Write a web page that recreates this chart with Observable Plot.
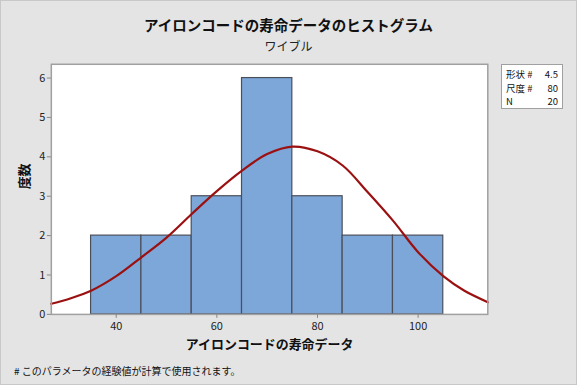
<!DOCTYPE html>
<html><head><meta charset="utf-8">
<script src="https://cdn.jsdelivr.net/npm/d3@7"></script>
<script src="https://cdn.jsdelivr.net/npm/@observablehq/plot@0.6"></script>
<style>
html,body{margin:0;padding:0;}
#wrap{position:relative;width:577px;height:385px;box-sizing:border-box;background:#e4e4e4;border:1px solid #c8c8c8;font-family:"Noto Sans CJK JP","Noto Sans",sans-serif;overflow:hidden;}
#wrap svg{position:absolute;left:-1px;top:-1px;}
.t{position:absolute;white-space:nowrap;color:#111;}
#legend{position:absolute;left:500px;top:63px;width:62px;height:45px;box-sizing:border-box;background:#fff;border:1px solid #a0a0a0;font-size:9.5px;color:#111;}
#legend .lab{position:absolute;left:4px;line-height:11px;height:11px;white-space:nowrap;}
#legend .val{position:absolute;right:4px;line-height:11px;height:11px;white-space:nowrap;}
</style></head>
<body><div id="wrap"></div>
<script>
const binEdges = [35, 45, 55, 65, 75, 85, 95, 105];
const counts = [2, 2, 3, 6, 3, 2, 2];
const curveX = [27.1, 31, 35, 40, 45, 50, 55, 60, 65, 70, 75, 80, 85, 90, 95, 100, 105, 109.2, 113.85];
const curveY = [0.27, 0.41, 0.60, 0.97, 1.45, 1.95, 2.55, 3.13, 3.65, 4.07, 4.26, 4.14, 3.78, 3.10, 2.38, 1.58, 0.97, 0.60, 0.31];
const xTicks = [40, 60, 80, 100];
const yTicks = [0, 1, 2, 3, 4, 5, 6];
const title = "アイロンコードの寿命データのヒストグラム";
const subtitle = "ワイブル";
const xLabel = "アイロンコードの寿命データ";
const yLabel = "度数";
const legendLabels = ["形状 #", "尺度 #", "N"];
const legendValues = ["4.5", "80", "20"];
const footer = "# このパラメータの経験値が計算で使用されます。";

const bins = counts.map((c, i) => ({x1: binEdges[i], x2: binEdges[i + 1], y: c}));
const curve = curveX.map((x, i) => ({x, y: curveY[i]}));

const chart = Plot.plot({
  width: 577, height: 385,
  marginLeft: 51, marginRight: 88, marginTop: 64, marginBottom: 70,
  style: {background: "transparent", fontFamily: "'Noto Sans CJK JP','Noto Sans',sans-serif", fontSize: "11px", color: "#222"},
  x: {domain: [27.1, 113.85]},
  y: {domain: [0, 6.35]},
  marks: [
    Plot.frame({fill: "#fff", stroke: "none"}),
    Plot.rectY(bins, {x1: "x1", x2: "x2", y: "y", fill: "#7da7d9", stroke: "#4a4f5a", strokeWidth: 1.2, inset: 0}),
    Plot.line(curve, {x: "x", y: "y", stroke: "#9b1111", strokeWidth: 2.2, curve: "catmull-rom"}),
    Plot.frame({stroke: "#a0a0a0", strokeWidth: 1.5}),
    Plot.axisX({ticks: xTicks, tickSize: 4, tickPadding: 4, stroke: "#888", label: null, fontSize: 11, tickFormat: "d"}),
    Plot.axisY({ticks: yTicks, tickSize: 4, tickPadding: 2, stroke: "#888", label: null, fontSize: 11, tickFormat: "d"}),
    Plot.text([xLabel], {frameAnchor: "bottom", lineAnchor: "middle", dy: 31, fontSize: 13, fontWeight: "bold", fill: "#111"}),
    Plot.text([yLabel], {frameAnchor: "left", lineAnchor: "middle", dx: -27, rotate: -90, fontSize: 13, fontWeight: "bold", fill: "#111"})
  ]
});
const wrap = document.getElementById("wrap");
wrap.appendChild(chart);

function addText(txt, css) {
  const d = document.createElement("div");
  d.className = "t";
  d.textContent = txt;
  Object.assign(d.style, css);
  wrap.appendChild(d);
  return d;
}
addText(title, {left: "0", width: "575px", textAlign: "center", top: "13px", fontSize: "14.5px", fontWeight: "bold"});
addText(subtitle, {left: "0", width: "575px", textAlign: "center", top: "36px", fontSize: "12px", color: "#222"});
addText(footer, {left: "13px", top: "362px", fontSize: "10px"});

const lg = document.createElement("div");
lg.id = "legend";
legendLabels.forEach((lab, i) => {
  const a = document.createElement("div");
  a.className = "lab";
  a.style.top = (4 + i * 13.5) + "px";
  a.textContent = lab;
  lg.appendChild(a);
  const b = document.createElement("div");
  b.className = "val";
  b.style.top = (4 + i * 13.5) + "px";
  b.textContent = legendValues[i];
  lg.appendChild(b);
});
wrap.appendChild(lg);
</script></body></html>
